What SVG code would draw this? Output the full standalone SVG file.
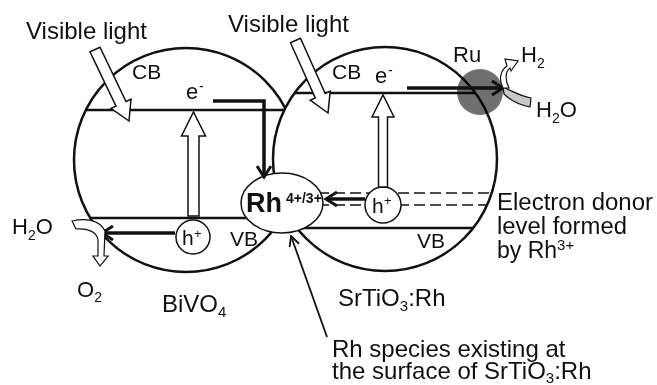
<svg xmlns="http://www.w3.org/2000/svg" width="657" height="385" viewBox="0 0 657 385">
<style>
text{font-family:"Liberation Sans",Arial,Helvetica,sans-serif;fill:#111}
.lbl{font-size:24px}
.rt{font-size:23px}
.band{font-size:21px}
.sm{font-size:22px}
.ln{stroke:#111;stroke-width:2.5;fill:none}
.part{fill:#fff;stroke:#111;stroke-width:2.5}
.thin{fill:#fff;stroke:#111;stroke-width:1.5}
.thick{stroke:#111;stroke-width:3.5;fill:none}
.dash{stroke:#111;stroke-width:1.6;stroke-dasharray:11 5;fill:none}
.open{fill:#fff;stroke:#111;stroke-width:1.5;stroke-linejoin:miter}
</style>
<defs>
<marker id="ah" markerUnits="userSpaceOnUse" viewBox="0 0 16 16" refX="13" refY="8" markerWidth="16" markerHeight="16" orient="auto">
<path d="M2,1 L13,8 L2,15" fill="none" stroke="#111" stroke-width="3"/>
</marker>
<marker id="ahs" markerUnits="userSpaceOnUse" viewBox="0 0 12 12" refX="11" refY="6" markerWidth="12" markerHeight="12" orient="auto">
<path d="M1,1 L11,6 L1,11" fill="none" stroke="#111" stroke-width="1.8"/>
</marker>
</defs>
<rect width="657" height="385" fill="#fff"/>

<g id="bivo4">
<circle class="part" cx="186" cy="160" r="112"/>
<path class="ln" d="M86,110 H284 M90,218 H262"/>
<text class="band" x="132" y="79">CB</text>
<text class="band" x="230" y="246">VB</text>
<text class="sm" x="186" y="99">e</text><text x="199" y="91" font-size="14">-</text>
<text class="lbl" x="162" y="312">BiVO<tspan font-size="15" dy="5">4</tspan></text>
</g>

<g id="srtio3">
<circle class="part" cx="385" cy="159" r="112"/>
<path class="ln" d="M294,93 H475 M300,228 H473"/>
<path class="dash" d="M318,193 H492 M318,205 H488"/>
<text class="band" x="332" y="79">CB</text>
<text class="band" x="417" y="248">VB</text>
<text class="sm" x="375" y="83">e</text><text x="388" y="75" font-size="14">-</text>
<text class="lbl" x="338" y="306">SrTiO<tspan font-size="15" dy="5">3</tspan><tspan dy="-5">:Rh</tspan></text>
</g>

<g id="ru">
<circle cx="480" cy="92" r="23" fill="#707070" style="mix-blend-mode:multiply"/>
<text class="sm" x="453" y="62">Ru</text>
</g>

<g id="rh">
<ellipse class="thin" cx="282" cy="203" rx="41" ry="30"/>
<text x="246" y="212" font-size="27" font-weight="bold">Rh</text>
<text x="286" y="203" font-size="14" font-weight="bold">4+/3+</text>
</g>

<g id="hole-bivo4">
<circle class="thin" cx="193" cy="237" r="17"/>
<text class="band" x="182" y="245">h</text><text x="194" y="238" font-size="13">+</text>
</g>

<g id="hole-srtio3">
<circle class="thin" cx="383" cy="205" r="18"/>
<text class="band" x="372" y="213">h</text><text x="384" y="205" font-size="13">+</text>
</g>

<g id="connectors">
<polygon class="open" points="90,51.8 100,47.2 126,101.5 131,99.2 129,121 111,108.4 116,106.1"/>
<polygon class="open" points="290.5,42.75 300.5,38.25 325.2,93.5 330.2,91.2 328,113 310.2,100.2 315.2,97.9"/>
<polygon class="open" points="188,216 188,136 181.5,136 193.5,112 205.5,136 199,136 199,216"/>
<polygon class="open" points="378.5,187 378.5,117 372,117 383,95 394,117 387.5,117 387.5,187"/>
<path class="thick" d="M213,101 H264 V177" marker-end="url(#ah)"/>
<path class="thick" d="M407,88 H503" marker-end="url(#ah)"/>
<path class="thick" d="M175,233 H102" marker-end="url(#ah)"/>
<path class="thick" d="M365,199 H326" marker-end="url(#ah)"/>
<path d="M327,337 L291,236" stroke="#111" stroke-width="1.8" fill="none" marker-end="url(#ahs)"/>
<path d="M72,221 C84,218 99,219 105,231 L104,256 L108,256 L100,266 L93,256 L98,256 L98,240 C97,232 88,228 76,229 Z" fill="#fff" stroke="#111" stroke-width="1.2"/>
<path d="M503,87 C512,91 520,96 531,98 L530,107 C520,105 510,100 504,94 Z" fill="#c8c8c8" stroke="#111" stroke-width="1.2"/>
<path d="M503,88 C498,79 501,70 507,66 L505,59 L518,61 L511,71 L510,68 C505,72 505,80 509,88 Z" fill="#fff" stroke="#111" stroke-width="1.2"/>
</g>

<g id="labels">
<text class="lbl" x="26" y="39">Visible light</text>
<text class="lbl" x="228" y="32">Visible light</text>
<text class="sm" x="521" y="62">H<tspan font-size="14" dy="6">2</tspan></text>
<text class="sm" x="536" y="117">H<tspan font-size="14" dy="6">2</tspan><tspan dy="-6">O</tspan></text>
<text class="sm" x="12" y="234">H<tspan font-size="14" dy="6">2</tspan><tspan dy="-6">O</tspan></text>
<text class="sm" x="77" y="297">O<tspan font-size="14" dy="5">2</tspan></text>
<text class="rt" x="497" y="210" textLength="156" lengthAdjust="spacingAndGlyphs">Electron donor</text>
<text class="rt" x="497" y="234" textLength="130" lengthAdjust="spacingAndGlyphs">level formed</text>
<text class="rt" x="497" y="258">by Rh<tspan font-size="15" dy="-8">3+</tspan></text>
<text class="lbl" x="332" y="357">Rh species existing at</text>
<text class="lbl" x="332" y="379">the surface of SrTiO<tspan font-size="15" dy="4">3</tspan><tspan dy="-4">:Rh</tspan></text>
</g>
</svg>
